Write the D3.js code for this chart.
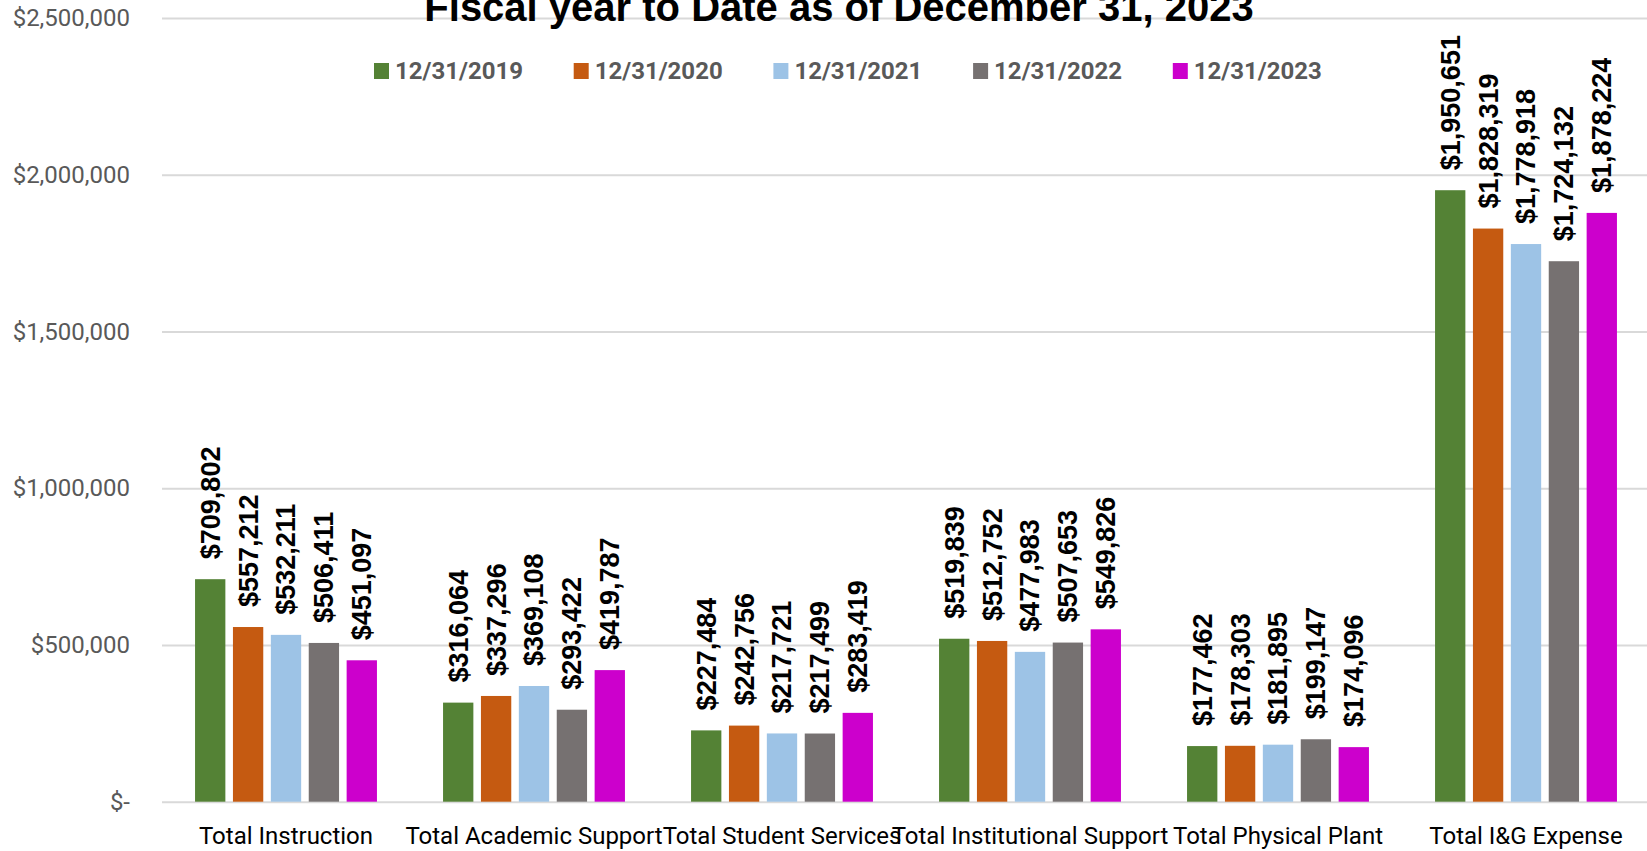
<!DOCTYPE html>
<html>
<head>
<meta charset="utf-8">
<script src="https://cdn.jsdelivr.net/npm/d3@7"></script>
<style>
  body { margin: 0; background: #ffffff; overflow: hidden; }
  svg { display: block; }
</style>
</head>
<body>
<div id="chart"></div>
<script>
//Chart data
var categories = ["Total Instruction", "Total Academic Support", "Total Student Services",
                  "Total Institutional Support", "Total Physical Plant", "Total I&G Expense"];
var seriesNames = ["12/31/2019", "12/31/2020", "12/31/2021", "12/31/2022", "12/31/2023"];

var fy2019 = [709802, 316064, 227484, 519839, 177462, 1950651];
var fy2020 = [557212, 337296, 242756, 512752, 178303, 1828319];
var fy2021 = [532211, 369108, 217721, 477983, 181895, 1778918];
var fy2022 = [506411, 293422, 217499, 507653, 199147, 1724132];
var fy2023 = [451097, 419787, 283419, 549826, 174096, 1878224];

var yTicks = [0, 500000, 1000000, 1500000, 2000000, 2500000];

var seriesColors = ["#548235", "#c55a11", "#9dc3e6", "#767171", "#cc00cc"];

//Build rows for the grouped bars
var allSeries = [fy2019, fy2020, fy2021, fy2022, fy2023];
var barData = [];
categories.forEach(function(cat, i) {
   seriesNames.forEach(function(s, j) {
      barData.push({ category: cat, series: s, value: allSeries[j][i] });
   });
});

//Canvas size
var svgWidth = 1647;
var svgHeight = 851;

var svg = d3.select("#chart")
   .append("svg")
   .attr("width", svgWidth)
   .attr("height", svgHeight);

//Plot area edges
var plot = { left: 162, right: 1650, top: 18, bottom: 801.7 };

var labelFont = "Roboto, 'Liberation Sans', sans-serif";

//Scales
var x0 = d3.scaleBand()
   .domain(categories)
   .range([plot.left, plot.right]);

var x1 = d3.scaleBand()
   .domain(seriesNames)
   .range([0, x0.bandwidth()])
   .paddingInner(0.2)
   .paddingOuter(0.872);

var yScale = d3.scaleLinear()
   .domain([0, 2500000])
   .range([plot.bottom, plot.top]);

var color = d3.scaleOrdinal()
   .domain(seriesNames)
   .range(seriesColors);

var money = d3.format(",");

//Gridlines + y labels
var leftAxis = d3.axisLeft(yScale)
   .tickValues(yTicks)
   .tickSize(-(plot.right - plot.left))
   .tickPadding(32)
   .tickFormat(function(d) { return d === 0 ? "$-" : "$" + money(d); });

var yAxisG = svg.append("g")
   .attr("transform", `translate(${plot.left}, 0)`)
   .call(leftAxis);

yAxisG.select(".domain").remove();
yAxisG.selectAll(".tick line")
   .attr("stroke", "#d9d9d9")
   .attr("stroke-width", 2);
yAxisG.selectAll(".tick text")
   .attr("fill", "#595959")
   .style("font-family", labelFont)
   .style("font-size", "24px");

//x axis labels
var bottomAxis = d3.axisBottom(x0).tickSize(0).tickPadding(0);

var xAxisG = svg.append("g")
   .attr("transform", `translate(0, ${plot.bottom})`)
   .call(bottomAxis);

xAxisG.select(".domain").remove();
xAxisG.selectAll(".tick text")
   .attr("y", 42)
   .attr("dy", 0)
   .attr("fill", "#000000")
   .style("font-family", labelFont)
   .style("font-size", "24px");

//Bars
svg.append("g")
   .selectAll("rect")
   .data(barData)
   .enter()
   .append("rect")
   .attr("x", d => x0(d.category) + x1(d.series))
   .attr("y", d => yScale(d.value))
   .attr("width", x1.bandwidth())
   .attr("height", d => yScale(0) - yScale(d.value))
   .attr("fill", d => color(d.series));

//Data labels, rotated
svg.append("g")
   .selectAll("text")
   .data(barData)
   .enter()
   .append("text")
   .attr("transform", d => `translate(${x0(d.category) + x1(d.series) + x1.bandwidth() / 2}, ${yScale(d.value) - 20}) rotate(-90)`)
   .attr("dy", "0.35em")
   .attr("text-anchor", "start")
   .style("font-family", "'Liberation Sans', Arial, sans-serif")
   .style("font-weight", "bold")
   .style("font-size", "27px")
   .attr("fill", "#000000")
   .text(d => "$" + money(d.value));

//Title (top is cut off in the original)
svg.append("text")
   .attr("x", 839)
   .attr("y", 21)
   .attr("text-anchor", "middle")
   .style("font-family", "'Liberation Sans', Arial, sans-serif")
   .style("font-weight", "bold")
   .style("font-size", "40px")
   .attr("fill", "#000000")
   .text("Fiscal year to Date as of December 31, 2023");

//Legend
var legend = svg.append("g")
   .selectAll("g")
   .data(seriesNames)
   .enter()
   .append("g")
   .attr("transform", (d, i) => `translate(${374 + i * 199.7}, 71)`);

legend.append("rect")
   .attr("x", 0)
   .attr("y", -8)
   .attr("width", 15)
   .attr("height", 16)
   .attr("fill", d => color(d));

legend.append("text")
   .attr("x", 21)
   .attr("y", 0)
   .attr("dy", "0.35em")
   .style("font-family", labelFont)
   .style("font-weight", "bold")
   .style("font-size", "24px")
   .attr("fill", "#595959")
   .text(d => d);
</script>
</body>
</html>
